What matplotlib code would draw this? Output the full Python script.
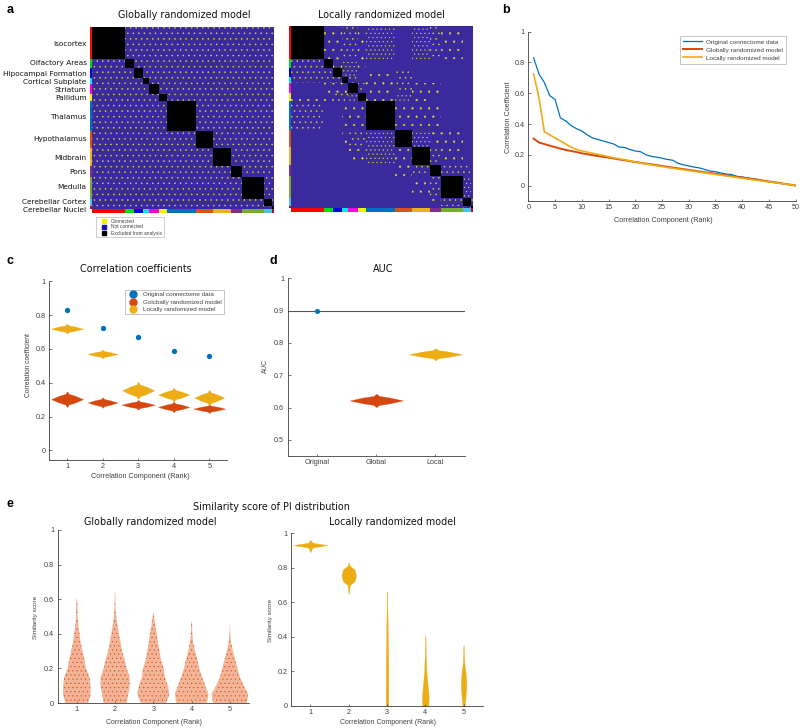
import matplotlib
matplotlib.use("Agg")
import matplotlib.pyplot as plt
from matplotlib.patches import Rectangle
from matplotlib.lines import Line2D

W, H = 800, 728
BLUE, RED, GOLD = "#0072BD", "#D5470F", "#EDAC14"
GRAY = "#404040"
NAVY = "#3A2A9E"
SANS = "Liberation Sans"

# ---- panel a
regions = ["Isocortex", "Olfactory Areas", "Hipocampal Formation", "Cortical Subplate",
           "Striatum", "Pallidum", "Thalamus", "Hypothalamus", "Midbrain", "Pons",
           "Medulla", "Cerebellar Cortex", "Cerebellar Nuclei"]
region_sizes = [32.7, 9, 9.7, 6, 10, 7.3, 29.7, 17, 18, 11, 21.7, 7.7, 2.3]
region_colors = ["#FF0000", "#00E010", "#0000E0", "#00E8F0", "#FF00E0", "#F0F000", "#0072BD",
                 "#D95319", "#EDB120", "#7E2F8E", "#77AC30", "#4DBEEE", "#A2142F"]
region_label_y = [44, 63, 74, 82, 89.5, 97.8, 117, 139, 158, 172, 187, 202, 210]
# connection density per block pair in the locally randomized model, 0 (none) to 3 (dense)
local_density = [
    [0, 1, 1, 2, 2, 1, 3, 0, 3, 2, 1, 0, 0],
    [2, 0, 1, 3, 3, 1, 0, 0, 0, 0, 0, 0, 0],
    [2, 2, 0, 3, 3, 0, 1, 2, 0, 0, 0, 0, 0],
    [2, 2, 2, 0, 2, 0, 1, 2, 0, 0, 0, 0, 0],
    [0, 1, 1, 1, 0, 2, 1, 2, 1, 1, 0, 0, 0],
    [1, 1, 2, 2, 3, 0, 1, 3, 1, 0, 0, 0, 0],
    [2, 0, 0, 1, 1, 1, 0, 1, 1, 1, 0, 0, 0],
    [0, 0, 0, 1, 2, 2, 3, 0, 3, 1, 1, 0, 0],
    [0, 0, 0, 0, 1, 1, 3, 1, 0, 2, 1, 0, 0],
    [0, 0, 0, 0, 0, 0, 0, 1, 2, 0, 2, 2, 0],
    [0, 0, 0, 0, 0, 0, 0, 0, 1, 2, 0, 3, 0],
    [0, 0, 0, 0, 0, 0, 0, 0, 0, 1, 2, 0, 2],
    [0, 0, 0, 0, 0, 0, 0, 0, 0, 0, 0, 1, 0],
]
global_density_level = 2
matrix_legend = ["Connected", "Not connected", "Excluded from analysis"]

# ---- panel b
rank_b = list(range(1, 51))
curve_original = [.83, .725, .67, .585, .56, .44, .42, .39, .37, .355, .33, .31, .30, .29, .28, .27, .25,
                  .248, .235, .225, .22, .20, .19, .185, .178, .17, .165, .145, .135, .128, .12, .115,
                  .105, .095, .09, .082, .075, .072, .06, .056, .05, .044, .04, .03, .025, .02, .015,
                  .01, .005, 0]
curve_global = [.305, .28, .27, .26, .25, .24, .232, .225, .218, .21, .204, .198, .192, .187, .182, .176,
                .17, .165, .159, .153, .148, .143, .138, .133, .128, .122, .117, .112, .107, .102, .097,
                .092, .087, .082, .077, .072, .067, .062, .057, .052, .047, .042, .037, .032, .027, .022,
                .017, .011, .006, 0]
curve_local = [.725, .57, .35, .33, .31, .29, .27, .25, .235, .225, .218, .21, .203, .196, .188, .18, .174,
               .168, .161, .154, .147, .141, .135, .129, .124, .118, .113, .108, .103, .098, .093, .088,
               .083, .078, .073, .068, .063, .058, .053, .048, .043, .038, .034, .029, .024, .02, .015,
               .01, .005, 0]
series_names_b = ["Original connectome data", "Globally randomized model", "Locally randomized model"]
series_names_c = ["Original connectome data", "Golcbally randomized model", "Locally randomized model"]

# ---- panel c
ranks = [1, 2, 3, 4, 5]
c_original = [.83, .725, .67, .585, .56]
c_global = [.303, .283, .27, .257, .247]
c_global_hw = [.45, .42, .47, .44, .45]
c_global_hh = [.045, .03, .028, .03, .025]
c_local = [.72, .57, .355, .33, .312]
c_local_hw = [.45, .42, .45, .44, .42]
c_local_hh = [.028, .025, .05, .04, .045]

# ---- panel d
d_labels = ["Original", "Global", "Local"]
d_original = .9
d_global, d_global_hw, d_global_hh = .622, .45, .02
d_local, d_local_hw, d_local_hh = .765, .45, .018

# ---- panel e, violin outlines: score level and half width
eg_y = [
    [0, .05, .1, .15, .2, .25, .3, .35, .4, .45, .5, .55, .6],
    [0, .05, .1, .15, .2, .25, .3, .35, .4, .45, .5, .55, .6, .645],
    [0, .05, .1, .15, .2, .25, .3, .35, .4, .45, .52],
    [0, .05, .1, .15, .2, .25, .3, .35, .4, .47],
    [0, .05, .1, .15, .2, .25, .3, .35, .4, .45],
]
eg_w = [
    [.3, .36, .36, .33, .24, .2, .15, .1, .07, .04, .02, .02, .01],
    [.3, .34, .38, .38, .3, .25, .18, .14, .1, .06, .03, .015, .01, .005],
    [.33, .42, .38, .3, .27, .2, .16, .12, .09, .05, .01],
    [.4, .44, .36, .27, .2, .15, .09, .04, .02, .01],
    [.44, .48, .36, .26, .2, .14, .08, .03, .01, .005],
]
el_y = [
    [.89, .915, .922, .93, .938, .945, .96],
    [.65, .7, .72, .755, .79, .81, .83],
    [0, .1, .3, .5, .66],
    [0, .05, .1, .15, .2, .3, .41],
    [0, .05, .1, .15, .2, .25, .35],
]
el_w = [
    [.005, .05, .22, .45, .22, .05, .005],
    [.005, .03, .15, .19, .15, .03, .005],
    [.035, .035, .03, .015, .005],
    [.08, .09, .07, .05, .03, .012, .004],
    [.03, .05, .07, .07, .05, .02, .005],
]
lens_y = [-1, -.7, -.45, 0, .45, .7, 1]
lens_w = [.02, .1, .5, 1, .5, .1, .02]

fig = plt.figure(figsize=(W / 100, H / 100), dpi=100, facecolor="white")
plt.rcParams["hatch.linewidth"] = 0.3


def px_axes(x0, y0, x1, y1, **kw):
    return fig.add_axes([x0 / W, 1 - y1 / H, (x1 - x0) / W, (y1 - y0) / H], **kw)


def px_text(x, y, s, **kw):
    kw.setdefault("ha", "center")
    kw.setdefault("va", "center")
    kw.setdefault("color", "#111111")
    fig.text(x / W, 1 - y / H, s, **kw)


def style(ax, xlim, ylim, xticks, yticks, xlabels=None, ylabels=None):
    ax.set_xlim(*xlim)
    ax.set_ylim(*ylim)
    ax.set_xticks(xticks)
    ax.set_yticks(yticks)
    if xlabels is not None:
        ax.set_xticklabels(xlabels)
    if ylabels is not None:
        ax.set_yticklabels(ylabels)
    for s in ("top", "right"):
        ax.spines[s].set_visible(False)
    for s in ("left", "bottom"):
        ax.spines[s].set_color(GRAY)
        ax.spines[s].set_linewidth(0.6)
    ax.tick_params(direction="in", length=1.8, width=0.5, color=GRAY, labelcolor=GRAY,
                   labelsize=5.2, pad=2.5)
    for lab in ax.get_xticklabels() + ax.get_yticklabels():
        lab.set_fontfamily(SANS)


def matrix(x0, y0, density=None):
    x1, y1 = x0 + sum(region_sizes), y0 + sum(region_sizes)
    ax = px_axes(x0, y0, x1, y1)
    ax.set_xlim(0, sum(region_sizes))
    ax.set_ylim(sum(region_sizes), 0)
    ax.set_facecolor(NAVY)
    ax.set_xticks([])
    ax.set_yticks([])
    for s in ax.spines.values():
        s.set_visible(False)
    hatches = {1: "..", 2: "...", 3: "...."}
    py = 0
    for i, hi in enumerate(region_sizes):
        px = 0
        for j, wj in enumerate(region_sizes):
            if i == j:
                ax.add_patch(Rectangle((px, py), wj, hi, fc="black", ec="none", zorder=3))
            else:
                level = global_density_level if density is None else density[i][j]
                if level:
                    ax.add_patch(Rectangle((px, py), wj, hi, fc="none", ec="#E8E020",
                                           hatch=hatches[level], lw=0, zorder=2))
            px += wj
        py += hi
    strip_l = px_axes(x0 - 2.5, y0, x0, y1)
    strip_b = px_axes(x0, y1, x1, y1 + 4)
    pos = 0
    for size, col in zip(region_sizes, region_colors):
        strip_l.add_patch(Rectangle((0, pos), 1, size, fc=col, ec="none"))
        strip_b.add_patch(Rectangle((pos, 0), size, 1, fc=col, ec="none"))
        pos += size
    strip_l.set_xlim(0, 1)
    strip_l.set_ylim(sum(region_sizes), 0)
    strip_b.set_xlim(0, sum(region_sizes))
    strip_b.set_ylim(0, 1)
    strip_l.axis("off")
    strip_b.axis("off")


def diamond(ax, c, y, hw, hh, color):
    ys = [y + hh * f for f in lens_y]
    lo = [c - hw * f for f in lens_w]
    hi = [c + hw * f for f in lens_w]
    ax.fill_betweenx(ys, lo, hi, color=color, lw=0.2)


# ---- a
matrix(92, 26.5)
matrix(291, 26, local_density)
for name, y in zip(regions, region_label_y):
    px_text(86.5, y, name, ha="right", fontsize=5.3)
px_text(184.5, 15, "Globally randomized model", fontsize=6.9)
px_text(381, 15, "Locally randomized model", fontsize=6.9)
ax_leg = px_axes(96, 217, 164, 237)
ax_leg.set_xlim(96, 164)
ax_leg.set_ylim(237, 217)
ax_leg.set_xticks([])
ax_leg.set_yticks([])
for s in ax_leg.spines.values():
    s.set_color("#BBBBBB")
    s.set_linewidth(0.5)
for y, col, lab in zip([221.5, 227, 233.5], ["#F4F000", "#1A10B0", "black"], matrix_legend):
    ax_leg.plot([103.5], [y], "s", ms=3, color=col)
    ax_leg.text(111, y, lab, fontsize=3.5, va="center", color=GRAY, family=SANS)

# ---- b
ax = px_axes(528.3, 31.7, 795.7, 201)
ax.plot(rank_b, curve_original, color=BLUE, lw=0.9, label=series_names_b[0])
ax.plot(rank_b, curve_global, color=RED, lw=1.4, label=series_names_b[1])
ax.plot(rank_b, curve_local, color=GOLD, lw=1.2, label=series_names_b[2])
style(ax, (0, 50), (-.1, 1), list(range(0, 51, 5)), [0, .2, .4, .6, .8, 1],
      ylabels=["0", "0.2", "0.4", "0.6", "0.8", "1"])
ax.legend(loc="upper left", bbox_to_anchor=((680 - 528.3) / 267.4, .975), prop={"family": SANS, "size": 4.6},
          labelcolor=GRAY, fancybox=False, edgecolor="#999999", framealpha=1, borderpad=.5,
          labelspacing=.4, handlelength=3.0, handletextpad=.5,
          borderaxespad=0).get_frame().set_linewidth(.4)
px_text(663, 220, "Correlation Component (Rank)", fontsize=5.2, color=GRAY, family=SANS)
px_text(508, 117, "Correlation Coefficient", fontsize=5.2, rotation=90, color=GRAY, family=SANS)

# ---- c
ax = px_axes(49.3, 281.3, 227, 459.7)
ax.plot(ranks, c_original, "o", color=BLUE, ms=2.8)
for r, y, w, h in zip(ranks, c_global, c_global_hw, c_global_hh):
    diamond(ax, r, y, w, h, RED)
for r, y, w, h in zip(ranks, c_local, c_local_hw, c_local_hh):
    diamond(ax, r, y, w, h, GOLD)
style(ax, (.5, 5.5), (-.055, 1), ranks, [0, .2, .4, .6, .8, 1], ylabels=["0", "0.2", "0.4", "0.6", "0.8", "1"])
handles = [Line2D([], [], marker="o", ls="", ms=5, color=c) for c in (BLUE, RED, GOLD)]
ax.legend(handles, series_names_c, loc="upper left", bbox_to_anchor=((125 - 49.3) / 177.7, .95),
          prop={"family": SANS, "size": 4.5}, labelcolor=GRAY, fancybox=False, edgecolor="#999999",
          framealpha=1, borderpad=.3, labelspacing=.3, handletextpad=.6, borderaxespad=0).get_frame().set_linewidth(.4)
px_text(136, 269.5, "Correlation coefficients", fontsize=6.9)
px_text(140.5, 476, "Correlation Component (Rank)", fontsize=5.2, color=GRAY, family=SANS)
px_text(28, 365, "Correlation coefficient", fontsize=4.8, rotation=90, color=GRAY, family=SANS)

# ---- d
ax = px_axes(287.7, 278.3, 465, 456)
ax.axhline(d_original, color="#555555", lw=.8)
ax.plot([1], [d_original], "o", color=BLUE, ms=2.6)
diamond(ax, 2, d_global, d_global_hw, d_global_hh, RED)
diamond(ax, 3, d_local, d_local_hw, d_local_hh, GOLD)
style(ax, (.5, 3.5), (.45, 1), [1, 2, 3], [.5, .6, .7, .8, .9, 1], xlabels=d_labels,
      ylabels=["0.5", "0.6", "0.7", "0.8", "0.9", "1"])
px_text(383, 269, "AUC", fontsize=6.9)
px_text(265, 366, "AUC", fontsize=4.8, rotation=90, color=GRAY, family=SANS)

# ---- e
ax = px_axes(57.7, 530, 249, 703)
for r, ys, ws in zip(ranks, eg_y, eg_w):
    ax.fill_betweenx(ys, [r - w for w in ws], [r + w for w in ws], facecolor="#F3B497",
                     edgecolor=RED, hatch="....", lw=0)
style(ax, (.5, 5.5), (0, 1), ranks, [0, .2, .4, .6, .8, 1], ylabels=["0", "0.2", "0.4", "0.6", "0.8", "1"])
px_text(150, 522, "Globally randomized model", fontsize=6.9)
px_text(154, 723, "Correlation Component (Rank)", fontsize=5, color=GRAY, family=SANS)
px_text(36, 617, "Similarity score", fontsize=4.6, rotation=90, color=GRAY, family=SANS)

ax = px_axes(291.3, 533, 482.7, 706)
for r, ys, ws in zip(ranks, el_y, el_w):
    ax.fill_betweenx(ys, [r - w for w in ws], [r + w for w in ws], color=GOLD, lw=.2)
style(ax, (.5, 5.5), (0, 1), ranks, [0, .2, .4, .6, .8, 1], ylabels=["0", "0.2", "0.4", "0.6", "0.8", "1"])
px_text(392, 522, "Locally randomized model", fontsize=6.9)
px_text(388, 723, "Correlation Component (Rank)", fontsize=5, color=GRAY, family=SANS)
px_text(270.5, 620, "Similarity score", fontsize=4.6, rotation=90, color=GRAY, family=SANS)

px_text(271, 507, "Similarity score of PI distribution", fontsize=6.9)

for x, y, s in [(10, 10, "a"), (506, 10, "b"), (10, 261, "c"), (273, 261, "d"), (10, 504, "e")]:
    px_text(x, y, s, fontsize=9, fontweight="bold", family=SANS, color="black")

fig.savefig("out.png", dpi=100)
